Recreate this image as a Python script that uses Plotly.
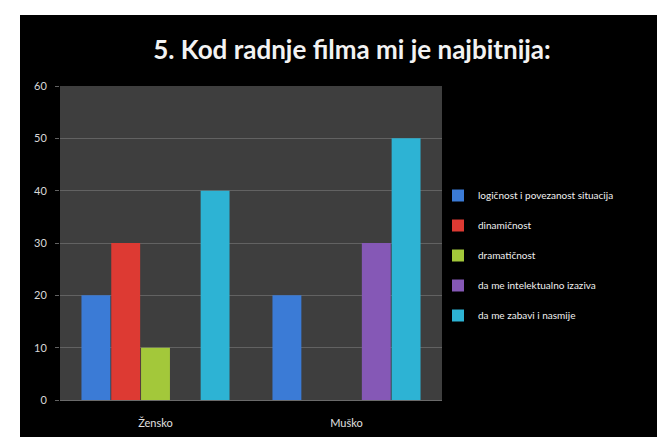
import plotly.graph_objects as go

categories = ["Žensko", "Muško"]
series_names = [
    "logičnost i povezanost situacija",
    "dinamičnost",
    "dramatičnost",
    "da me intelektualno izaziva",
    "da me zabavi i nasmije",
]
logicnost = [20, 20]
dinamicnost = [30, 0]
dramaticnost = [10, 0]
intelektualno = [0, 30]
zabavi = [40, 50]
y_ticks = [0, 10, 20, 30, 40, 50, 60]

colors = ["#3b7bd6", "#dd3a33", "#a3c83a", "#8558b6", "#2db3d4"]
values = [logicnost, dinamicnost, dramaticnost, intelektualno, zabavi]

OFF = 8  # default page body margin
W, H = 665 - OFF, 437 - OFF
L, R, T, B = 60 - OFF, 665 - 442, 86 - OFF, 37
pw = W - L - R
ph = H - T - B


def px_x(p):
    return (p - OFF - L) / pw


def px_y(p):
    return 1 - (p - OFF - T) / ph


fig = go.Figure()
for i, (name, vals) in enumerate(zip(series_names, values)):
    fig.add_trace(go.Bar(
        x=categories, y=vals, name=name,
        marker=dict(color=colors[i], line=dict(width=0)),
        legendgroup=f"g{i}",
    ))

fig.update_layout(
    width=W, height=H,
    margin=dict(l=L, r=R, t=T, b=B, autoexpand=False),
    paper_bgcolor="#000000",
    plot_bgcolor="#3e3e3e",
    barmode="group",
    bargap=0.22,
    bargroupgap=0.03,
    showlegend=True,
    title=dict(
        text="<b>5. Kod radnje filma mi je najbitnija:</b>",
        font=dict(family="Lato", size=26, color="#f2f2f2"),
        x=px_x(352), xref="paper", xanchor="center",
        y=1 - (50 - OFF) / H, yref="container", yanchor="middle",
    ),
    font=dict(family="Lato", color="#d9d9d9"),
    xaxis=dict(
        showgrid=False, showline=True, linecolor="#6a6a6a", linewidth=1,
        tickfont=dict(size=11, color="#e0e0e0"),
        ticks="", ticklabelstandoff=13,
    ),
    yaxis=dict(
        range=[0, 60], tickvals=y_ticks, ticktext=[str(v) for v in y_ticks],
        showgrid=True, gridcolor="#626262", gridwidth=1,
        zeroline=False, showline=False,
        ticks="outside", ticklen=4, tickcolor="#626262",
        tickfont=dict(size=11, color="#d9d9d9"),
        ticklabelstandoff=6,
    ),
    legend=dict(
        x=px_x(438), xanchor="left", xref="paper",
        y=px_y(181), yanchor="top",
        bgcolor="rgba(0,0,0,0)",
        font=dict(family="Lato", size=10, color="#f0f0f0"),
        tracegroupgap=11,
        traceorder="grouped",
        itemwidth=30,
    ),
    shapes=[
        dict(type="rect", xref="paper", yref="paper",
             x0=px_x(0), x1=px_x(700), y0=px_y(0) + 0.05, y1=px_y(15),
             fillcolor="#ffffff", line=dict(width=0), layer="above"),
        dict(type="rect", xref="paper", yref="paper",
             x0=px_x(-5), x1=px_x(20), y0=px_y(450), y1=px_y(0) + 0.05,
             fillcolor="#ffffff", line=dict(width=0), layer="above"),
    ],
)

fig.write_html("out.html")
